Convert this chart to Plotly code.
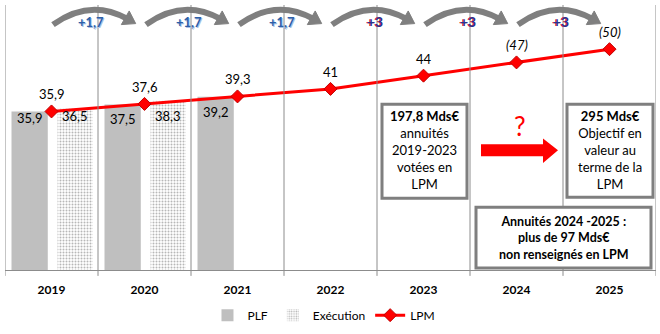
import plotly.graph_objects as go

years = ["2019", "2020", "2021", "2022", "2023", "2024", "2025"]
plf = [35.9, 37.5, 39.2]
execution = [36.5, 38.3]
lpm = [35.9, 37.6, 39.3, 41, 44, 47, 50]
lpm_estimated = [False, False, False, False, False, True, True]
steps = ["+1,7", "+1,7", "+1,7", "+3", "+3", "+3"]

FONT = "Lato"
GRID = "#8c8c8c"


def fmt(v):
    return str(int(v)) if float(v).is_integer() else f"{v:.1f}".replace(".", ",")


# pixel -> paper helpers (plot area: x 5..656, y 5..275)
PL, PR, PB, PT = 5, 656, 275, 5


def px(X):
    return (X - PL) / (PR - PL)


def py(Y):
    return (PB - Y) / (PB - PT)


xs = list(range(len(years)))
PLF_OFF, PLF_W = -0.43, 0.39
EX_OFF, EX_W = 0.065, 0.378

fig = go.Figure()
fig.add_trace(go.Bar(
    x=xs[:len(plf)], y=plf, name="PLF", offset=PLF_OFF, width=PLF_W,
    marker=dict(color="#BFBFBF", line=dict(width=0)),
))
fig.add_trace(go.Bar(
    x=xs[:len(execution)], y=execution, name="Exécution", offset=EX_OFF, width=EX_W,
    marker=dict(color="white", line=dict(width=0),
                pattern=dict(shape=".", fgcolor="#6f6f6f", bgcolor="white",
                             size=3, solidity=0.35)),
))
fig.add_trace(go.Scatter(
    x=xs, y=lpm, name="LPM", mode="lines+markers",
    line=dict(color="#FF0000", width=3),
    marker=dict(symbol="diamond", size=10, color="#FF0000",
                line=dict(color="#C00000", width=1)),
))

ann = []
shapes = []


def A(**kw):
    kw.setdefault("showarrow", False)
    kw.setdefault("xanchor", "center")
    kw.setdefault("yanchor", "middle")
    ann.append(kw)


# bar labels
plf_shift = [-7, -15, -15]
for i, v in enumerate(plf):
    A(x=xs[i] + PLF_OFF + PLF_W / 2, y=v, xref="x", yref="y",
      text=fmt(v), yshift=plf_shift[i],
      font=dict(family=FONT, size=13, color="black"))
ex_shift = [-7, -15]
for i, v in enumerate(execution):
    A(x=xs[i] + EX_OFF + EX_W / 2, y=v, xref="x", yref="y",
      text=fmt(v), yshift=ex_shift[i],
      font=dict(family=FONT, size=13, color="black"))

# LPM labels
for i, v in enumerate(lpm):
    t = f"<i>({fmt(v)})</i>" if lpm_estimated[i] else fmt(v)
    A(x=xs[i], y=v, xref="x", yref="y", text=t,
      yshift=17, font=dict(family=FONT, size=13, color="black"))

# vertical category separators with tick extension
for k in range(len(years) + 1):
    xb = k - 0.5
    shapes.append(dict(type="line", xref="x", yref="paper", x0=xb, x1=xb,
                       y0=py(281), y1=1, line=dict(color=GRID, width=1)))

# top curved arrows
for i, s in enumerate(steps):
    cx = PL + (i + 0.5) * (PR - PL) / len(years)
    sx, sy = cx + 1.5, 25
    qx, qy = cx + 38.5, -2
    ex, ey = cx + 75.5, 19
    path = f"M {px(sx)} {py(sy)} Q {px(qx)} {py(qy)} {px(ex)} {py(ey)}"
    shapes.append(dict(type="path", xref="paper", yref="paper", path=path,
                       line=dict(color="#7F7F7F", width=6)))
    dx, dy = ex - qx, ey - qy
    L = (dx * dx + dy * dy) ** 0.5
    dx, dy = dx / L, dy / L
    nx, ny = -dy, dx
    tip = (ex + 10 * dx, ey + 10 * dy)
    b1 = (ex - 2 * dx + 8 * nx, ey - 2 * dy + 8 * ny)
    b2 = (ex - 2 * dx - 8 * nx, ey - 2 * dy - 8 * ny)
    tri = (f"M {px(b1[0])} {py(b1[1])} L {px(tip[0])} {py(tip[1])} "
           f"L {px(b2[0])} {py(b2[1])} Z")
    shapes.append(dict(type="path", xref="paper", yref="paper", path=tri,
                       fillcolor="#7F7F7F", line=dict(color="#7F7F7F", width=1)))
    tx = cx + (40 if i == 0 else 44)
    if s == "+3":
        font = dict(family=FONT, size=14, color="#27368F", weight="bold",
                    shadow="-1px 0px 0px #E0102A")
    else:
        font = dict(family=FONT, size=13, color="#2D5FA8", weight="bold",
                    shadow="1px 1px 0px #A9C1E6")
    A(x=px(tx), y=py(22), xref="paper", yref="paper", text=s, font=font)

# boxes
BOXC = "#7F7F7F"
for (x0, x1, y0, y1) in [(382, 467, 106, 202), (567, 653, 106, 201), (476, 651, 211, 273)]:
    shapes.append(dict(type="rect", xref="paper", yref="paper",
                       x0=px(x0), x1=px(x1), y0=py(y1), y1=py(y0),
                       fillcolor="white", line=dict(color=BOXC, width=3)))

A(x=px(424.5), y=py(153), xref="paper", yref="paper",
  text="<b>197,8 Mds€</b><br>annuités<br>2019-2023<br>votées en<br>LPM",
  font=dict(family=FONT, size=13, color="black"))
A(x=px(610), y=py(153), xref="paper", yref="paper",
  text="<b>295 Mds€</b><br>Objectif en<br>valeur au<br>terme de la<br>LPM",
  font=dict(family=FONT, size=13, color="black"))
A(x=px(563.5), y=py(242), xref="paper", yref="paper",
  text="<b>Annuités 2024 -2025 :<br>plus de 97 Mds€<br>non renseignés en LPM</b>",
  font=dict(family=FONT, size=12.5, color="black"))

# red arrow + question mark
arrow = (f"M {px(481)} {py(147)} L {px(543)} {py(147)} L {px(543)} {py(141)} "
         f"L {px(558)} {py(153)} L {px(543)} {py(166)} L {px(543)} {py(159)} "
         f"L {px(481)} {py(159)} Z")
shapes.append(dict(type="path", xref="paper", yref="paper", path=arrow,
                   fillcolor="#FF0000", line=dict(width=0)))
A(x=px(520), y=py(128), xref="paper", yref="paper",
  text="?", font=dict(family=FONT, size=26, color="#FF0000"))

fig.update_layout(
    width=660, height=334,
    margin=dict(l=PL, r=660 - PR, t=PT, b=334 - PB),
    paper_bgcolor="white", plot_bgcolor="white",
    barmode="overlay",
    showlegend=True,
    legend=dict(orientation="h", x=0.49, xanchor="center", y=py(321), yanchor="middle",
                font=dict(family=FONT, size=12, color="black"),
                itemwidth=30, tracegroupgap=0, bgcolor="rgba(0,0,0,0)"),
    xaxis=dict(range=[-0.5, len(years) - 0.5], tickvals=xs, ticktext=years,
               showgrid=False, zeroline=False, showline=True, linecolor=GRID,
               linewidth=1, ticks="outside", ticklen=9, tickcolor="rgba(0,0,0,0)",
               tickfont=dict(family=FONT, size=12, color="black", weight="bold")),
    yaxis=dict(range=[0, 60], visible=False, showgrid=False, zeroline=False),
    shapes=shapes,
    annotations=ann,
)

fig.write_html("out.html")
